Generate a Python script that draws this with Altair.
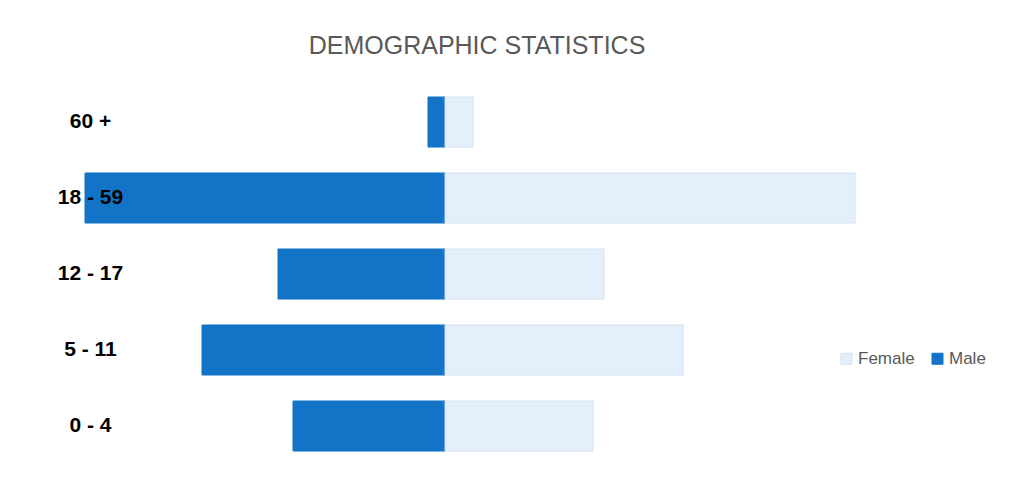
import altair as alt
import pandas as pd

# Data
age_groups = ["60 +", "18 - 59", "12 - 17", "5 - 11", "0 - 4"]
male = [85, 1800, 835, 1215, 760]
female = [140, 2050, 795, 1190, 740]

rows = []
for g, m, f in zip(age_groups, male, female):
    rows.append({"age": g, "sex": "Male", "value": m})
    rows.append({"age": g, "sex": "Female", "value": f})
df = pd.DataFrame(rows)

sex_domain = ["Female", "Male"]
fill_range = ["#E3EFFB", "#1373C6"]
stroke_range = ["#D2E1F2", "#1373C6"]

legend_cfg = dict(
    title=None,
    orient="none",
    legendX=830,
    legendY=266,
    direction="horizontal",
    symbolType="square",
    symbolSize=121,
    symbolStrokeWidth=1,
    labelFontSize=17,
    labelColor="#595959",
    labelFont="Liberation Sans",
    labelOffset=3,
    columnPadding=14,
    padding=0,
)

bars = (
    alt.Chart(df)
    .transform_calculate(signed="datum.sex == 'Male' ? -datum.value : datum.value")
    .mark_bar(strokeWidth=1)
    .encode(
        y=alt.Y(
            "age:N",
            sort=age_groups,
            scale=alt.Scale(paddingInner=26 / 76, paddingOuter=13 / 76),
            axis=alt.Axis(
                title=None,
                domain=False,
                ticks=False,
                grid=False,
                labelAlign="center",
                labelBaseline="middle",
                labelPadding=0,
                offset=-82,
                labelFontSize=21,
                labelFontWeight="bold",
                labelColor="#000000",
                labelFont="Liberation Sans",
                zindex=1,
            ),
        ),
        x=alt.X(
            "signed:Q",
            scale=alt.Scale(domain=[-2185, 2875], nice=False, zero=False),
            axis=None,
        ),
        color=alt.Color(
            "sex:N",
            scale=alt.Scale(domain=sex_domain, range=fill_range),
            legend=alt.Legend(**legend_cfg),
        ),
        stroke=alt.Stroke(
            "sex:N",
            scale=alt.Scale(domain=sex_domain, range=stroke_range),
            legend=alt.Legend(**legend_cfg),
        ),
    )
)

chart = (
    bars.properties(
        width=1012,
        height=380,
        padding={"left": 0, "top": 76, "right": 0, "bottom": 10},
        autosize=alt.AutoSizeParams(type="none"),
        background="#ffffff",
        title=alt.TitleParams(
            "DEMOGRAPHIC STATISTICS",
            font="Liberation Sans Narrow, Arial Narrow, Liberation Sans, sans-serif",
            fontSize=25,
            fontWeight="normal",
            color="#595959",
            anchor="middle",
            dx=-37,
            offset=25,
        ),
    )
    .configure_view(strokeWidth=0)
)

chart.save("out.html", embed_options={"renderer": "svg", "actions": False})
